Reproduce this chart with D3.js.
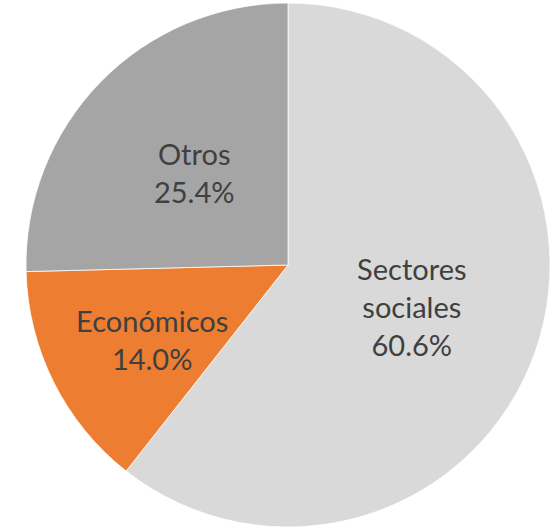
<!DOCTYPE html>
<html>
<head>
<meta charset="utf-8">
<script src="https://cdn.jsdelivr.net/npm/d3@7"></script>
<style>
  body { margin: 0; background: #fff; }
</style>
</head>
<body>
<script>
var categories = ["Sectores sociales", "Económicos", "Otros"];
var shares = [60.6, 14.0, 25.4];
var labelLines = [["Sectores", "sociales"], ["Económicos"], ["Otros"]];
var colors = ["#d9d9d9", "#ed7d31", "#a5a5a5"];

var width = 557,
    height = 527,
    cx = 288,
    cy = 265,
    radius = 262;

var data = categories.map(function(c, i) {
  return { name: c, value: shares[i], lines: labelLines[i], color: colors[i] };
});

var svg = d3.select("body").append("svg")
    .attr("width", width)
    .attr("height", height)
  .append("g")
    .attr("transform", "translate(" + cx + "," + cy + ")");

var pie = d3.pie()
    .sort(null)
    .value(function(d) { return d.value; });

var arc = d3.arc()
    .innerRadius(0)
    .outerRadius(radius);

// excel puts the small slice label a bit further out / lower
function labelPos(d) {
  var small = d.data.name == "Económicos";
  var f = small ? 0.58 : 0.5;
  var c = d3.arc().innerRadius(radius * f).outerRadius(radius * f).centroid(d);
  if (small) c[1] += 8;
  return c;
}

var g = svg.selectAll(".arc")
    .data(pie(data))
  .enter().append("g")
    .attr("class", "arc");

g.append("path")
    .attr("d", arc)
    .style("fill", function(d) { return d.data.color; })
    .attr("stroke", "#fff")
    .style("stroke-width", "0.75px");

var lineH = 38;

g.append("text")
    .attr("transform", function(d) {
      var c = labelPos(d);
      return "translate(" + c[0] + "," + c[1] + ")";
    })
    .attr("text-anchor", "middle")
    .style("font-family", "Lato, 'Open Sans', sans-serif")
    .style("font-size", "29px")
    .style("fill", "#404040")
    .each(function(d) {
      var t = d3.select(this);
      var lines = d.data.lines.concat([d.data.value.toFixed(1) + "%"]);
      var y0 = -(lines.length - 1) * lineH / 2 + 10;
      lines.forEach(function(l, i) {
        t.append("tspan")
          .attr("x", 0)
          .attr("y", y0 + i * lineH)
          .text(l);
      });
    });
</script>
</body>
</html>
